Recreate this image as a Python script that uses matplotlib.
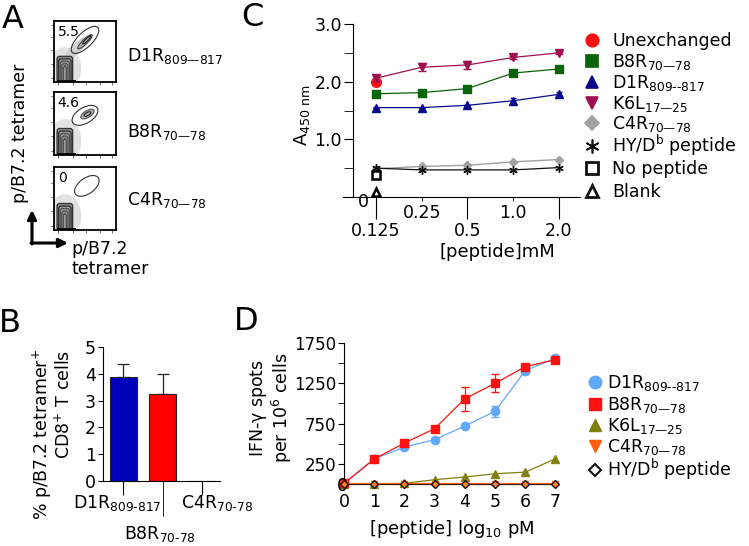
import numpy as np
import matplotlib.pyplot as plt
from matplotlib.patches import Ellipse, FancyBboxPatch

plt.rcParams['font.family'] = ['DejaVu Sans']
plt.rcParams['mathtext.default'] = 'regular'

# ---------------- data ----------------
# panel A (flow plots)
a_labels = ["D1R$_{809—817}$", "B8R$_{70—78}$", "C4R$_{70—78}$"]
a_freq = ["5.5", "4.6", "0"]

# panel B
b_names = ["D1R$_{809\u2010817}$", "B8R$_{70\u201078}$", "C4R$_{70\u201078}$"]
b_mean = [3.90, 3.26, 0.0]
b_err = [0.46, 0.74, 0.0]

# panel C  (A450 vs peptide mM)
c_conc = [0.125, 0.25, 0.5, 1.0, 2.0]
c_conc_labels = ["0.125", "0.25", "0.5", "1.0", "2.0"]
c_k6l = [2.06, 2.25, 2.29, 2.42, 2.50]
c_k6l_err = [0.05, 0.07, 0.07, 0.03, 0.02]
c_b8r = [1.79, 1.81, 1.88, 2.15, 2.22]
c_b8r_err = [0.02, 0.02, 0.02, 0.02, 0.02]
c_d1r = [1.55, 1.55, 1.59, 1.67, 1.78]
c_d1r_err = [0.01, 0.01, 0.01, 0.04, 0.04]
c_c4r = [0.49, 0.53, 0.55, 0.61, 0.65]
c_hy = [0.50, 0.47, 0.47, 0.47, 0.51]
c_unexch = [1.99]
c_nopep = [0.39]
c_blank = [0.09]

# panel D  (IFN-g spots vs log10 pM)
d_logc = [0, 1, 2, 3, 4, 5, 6, 7]
d_d1r = [10, 313, 461, 552, 721, 902, 1405, 1560]
d_d1r_err = [0, 0, 0, 0, 0, 66, 40, 0]
d_b8r = [10, 313, 510, 688, 1058, 1248, 1454, 1540]
d_b8r_err = [0, 0, 0, 0, 150, 110, 0, 0]
d_k6l = [5, 5, 12, 57, 90, 131, 150, 316]
d_c4r = [5, 5, 5, 5, 5, 5, 5, 5]
d_hy = [5, 5, 5, 5, 5, 5, 5, 5]

W, H = 749, 546
fig = plt.figure(figsize=(W / 100, H / 100), dpi=100)

# overlay in pixel coords (origin top-left) for free text
ov = fig.add_axes([0, 0, 1, 1])
ov.set_xlim(0, W)
ov.set_ylim(H, 0)
ov.axis('off')


def fax(x0, y0, x1, y1):
    # axes from pixel box
    return fig.add_axes([x0 / W, 1 - y1 / H, (x1 - x0) / W, (y1 - y0) / H])


# panel letters
for let, x, y in [("A", 13, 19), ("B", 10, 323), ("C", 252, 18), ("D", 246, 321)]:
    ov.text(x, y, let, fontsize=23, ha='center', va='center')

# ---------------- panel A ----------------
boxes = [(54, 21, 116, 82), (54, 92, 116, 155), (54, 167, 116, 230)]
gates = [((0.5, 0.69), 0.58, 0.24, 45), ((0.5, 0.63), 0.46, 0.25, 30), ((0.53, 0.7), 0.45, 0.25, 35)]
for i, (x0, y0, x1, y1) in enumerate(boxes):
    ax = fax(x0, y0, x1, y1)
    ax.set_xlim(0, 1)
    ax.set_ylim(0, 1)
    tk = [0.07, 0.3, 0.52, 0.74, 0.94]
    ax.set_xticks(tk, [])
    ax.set_yticks(tk, [])
    ax.tick_params(length=2, width=0.6, colors='#555555')
    for s in ax.spines.values():
        s.set_linewidth(1.3)
    # sparse haze of events
    ax.add_patch(Ellipse((0.18, 0.22), 0.52, 0.7, color='#e2e2e2', lw=0))
    if i == 0:
        ax.add_patch(Ellipse((0.36, 0.55), 0.55, 0.16, angle=45, color='#d0d0d0', lw=0))
    # negative cluster contours (nested)
    for k in range(5):
        d = 0.025 * k
        ax.add_patch(FancyBboxPatch((0.05 + d, 0.0), 0.25 - 2 * d, 0.42 - 1.6 * d,
                                    boxstyle='round,pad=0,rounding_size=0.04',
                                    fc='#9a9a9a' if k == 0 else 'none',
                                    ec='#333333' if k < 2 else '#555555', lw=1.0))
    ax.add_patch(FancyBboxPatch((0.05, 0.0), 0.3, 0.035, boxstyle='square,pad=0',
                                fc='#111111', ec='none'))
    # positive population
    if i == 0:
        ax.add_patch(Ellipse((0.5, 0.66), 0.32, 0.08, angle=45, fc='#a8a8a8', ec='#444444', lw=0.8))
        ax.add_patch(Ellipse((0.53, 0.69), 0.18, 0.04, angle=45, fc='none', ec='#222222', lw=0.8))
    elif i == 1:
        ax.add_patch(Ellipse((0.54, 0.65), 0.24, 0.11, angle=30, fc='#b0b0b0', ec='#555555', lw=0.8))
        ax.add_patch(Ellipse((0.54, 0.65), 0.12, 0.05, angle=30, fc='none', ec='#222222', lw=0.8))
    (cx, cy), gw, gh, ang = gates[i]
    ax.add_patch(Ellipse((cx, cy), gw, gh, angle=ang, fc='none', ec='#333333', lw=0.8))
    ax.text(0.06, 0.93, a_freq[i], transform=ax.transAxes, fontsize=10, va='top', ha='left')

for lab, yb in zip(a_labels, [61, 137, 205]):
    ov.text(127, yb, lab, fontsize=12.5, va='baseline', ha='left')

ov.text(20, 133, "p/B7.2 tetramer", fontsize=12.5, rotation=90, ha='center', va='center')
ov.text(71, 249, "p/B7.2", fontsize=12.5, ha='left', va='center')
ov.text(72, 269, "tetramer", fontsize=12.5, ha='left', va='center')
ov.annotate('', xy=(32, 210), xytext=(32, 244),
            arrowprops=dict(arrowstyle='-|>', lw=2.2, color='k', mutation_scale=13, shrinkA=0, shrinkB=0))
ov.annotate('', xy=(68, 243), xytext=(31, 243),
            arrowprops=dict(arrowstyle='-|>', lw=2.2, color='k', mutation_scale=13, shrinkA=0, shrinkB=0))

# ---------------- panel B ----------------
axb = fax(103, 347.3, 220, 480.7)
xb = np.arange(len(b_mean))
axb.bar(xb, b_mean, width=0.68, color=['#0000bb', '#ff0000', '#ffffff'],
        edgecolor='#222222', linewidth=0.8, zorder=2)
axb.errorbar(xb[:2], b_mean[:2], yerr=[[0, 0], b_err[:2]], fmt='none', ecolor='#222222',
             elinewidth=0.9, capsize=4, capthick=0.9, zorder=1)
axb.set_xlim(-0.52, 2.46)
axb.set_ylim(0, 5)
axb.spines['top'].set_visible(False)
axb.spines['right'].set_visible(False)
axb.set_yticks([0, 1, 2, 3, 4, 5])
axb.tick_params(axis='y', length=3.5, pad=1.5, labelsize=12.5)
axb.set_xticks([0, 2])
axb.set_xticks([1], minor=True)
axb.tick_params(axis='x', which='major', length=10, labelbottom=False)
axb.tick_params(axis='x', which='minor', length=25, labelbottom=False)
axb.text(-0.15, -0.45, b_names[0], ha='center', va='top', fontsize=12.5, clip_on=False)
axb.text(0.94, -1.62, b_names[1], ha='center', va='top', fontsize=12.5, clip_on=False)
axb.text(1.46, -0.45, b_names[2], ha='left', va='top', fontsize=12.5, clip_on=False)
ov.text(52, 435, "% p/B7.2 tetramer$^{+}$\nCD8$^{+}$ T cells", rotation=90, fontsize=12.5,
        ha='center', va='center', multialignment='right', linespacing=1.05)

# ---------------- panel C ----------------
axc = fax(343, 24, 580, 197)
xc = np.log2(c_conc)
axc.errorbar(xc, c_hy, fmt='-', color='#111111', marker=(6, 2, 0), ms=6, mew=1.0, lw=0.9)
axc.plot(xc, c_c4r, '-', color='#a0a0a0', marker='D', ms=4.5, lw=1.0)
axc.errorbar(xc, c_d1r, yerr=c_d1r_err, fmt='-^', color='#0a0a8c', ms=5.5, lw=0.9, capsize=2.5)
axc.errorbar(xc, c_b8r, yerr=c_b8r_err, fmt='-s', color='#0a640a', ms=5.5, lw=0.9, capsize=2.5)
axc.plot(xc[:1], c_unexch, 'o', color='#ff1010', ms=7, zorder=4)
axc.errorbar(xc, c_k6l, yerr=c_k6l_err, fmt='-v', color='#a01050', ms=6, lw=0.9, capsize=3, zorder=5)
axc.plot(xc[:1], c_nopep, 's', mfc='white', mec='k', mew=1.8, ms=5.5, clip_on=False, zorder=6)
axc.plot(xc[:1], c_blank, '^', mfc='white', mec='k', mew=1.8, ms=5.5, clip_on=False, zorder=6)
axc.set_xlim(-3.72, 1.46)
axc.set_ylim(0, 3.0)
axc.spines['left'].set_position(('data', -3.5))
axc.spines['top'].set_visible(False)
axc.spines['right'].set_visible(False)
axc.set_yticks([1.0, 2.0, 3.0], ['1.0', '2.0', '3.0'])
axc.set_yticks([0.5, 1.5, 2.5], minor=True)
axc.tick_params(axis='y', which='both', length=6.5, pad=1.5, labelsize=12.5)
axc.set_xticks(xc[[0, 2, 4]], [c_conc_labels[0], c_conc_labels[2], c_conc_labels[4]])
axc.set_xticks(xc[[1, 3]], [c_conc_labels[1], c_conc_labels[3]], minor=True)
axc.tick_params(axis='x', which='major', length=16, pad=2, labelsize=12.5)
axc.tick_params(axis='x', which='minor', length=3, pad=2, labelsize=12.5)
axc.text(-3.28, -0.09, "0", ha='center', va='center', fontsize=12.5, clip_on=False)
ov.text(302, 115, "A$_{450\\ nm}$", rotation=90, fontsize=13, ha='center', va='center')
ov.text(497, 252, "[peptide]mM", fontsize=13, ha='center', va='center')

# legend C (drawn in pixel coords)
c_leg = [("Unexchanged", 'o', '#ff1010', '#ff1010', 9),
         ("B8R$_{70—78}$", 's', '#0a640a', '#0a640a', 8),
         ("D1R$_{809\u2010\u2010817}$", '^', '#0a0a8c', '#0a0a8c', 8.5),
         ("K6L$_{17—25}$", 'v', '#a01050', '#a01050', 9),
         ("C4R$_{70—78}$", 'D', '#a0a0a0', '#a0a0a0', 7),
         ("HY/D$^{b}$ peptide", (6, 2, 0), '#111111', '#111111', 10),
         ("No peptide", 's', 'white', '#111111', 8),
         ("Blank", '^', 'white', '#111111', 8)]
for (lab, mk, fc, ec, ms), yy in zip(c_leg, [40, 61, 82, 103, 123, 146, 168, 191]):
    ov.plot([592], [yy], marker=mk, mfc=fc, mec=ec, ms=ms, mew=2 if fc == 'white' else 1.2, ls='none')
    ov.text(612, yy + 6, lab, fontsize=12.5, va='baseline', ha='left')

# ---------------- panel D ----------------
axd = fax(344, 342.7, 557, 484.3)
axd.plot(d_logc, d_c4r, '-v', color='#ff6010', ms=5, lw=1.6, clip_on=False, zorder=3)
axd.plot(d_logc, d_hy, '-D', color='#111111', mfc='#ff8020', mec='#111111', ms=4, lw=0.6,
         clip_on=False, zorder=4)
axd.plot(d_logc, d_k6l, '-^', color='#808010', ms=5.5, lw=0.9, clip_on=False, zorder=2)
axd.errorbar(d_logc, d_d1r, yerr=d_d1r_err, fmt='-o', color='#60a8f8', ms=6, lw=0.9,
             capsize=3, clip_on=False, zorder=2)
axd.errorbar(d_logc, d_b8r, yerr=d_b8r_err, fmt='-s', color='#ff1010', ms=6, lw=0.9,
             capsize=3, clip_on=False, zorder=2)
axd.set_xlim(0, 7.05)
axd.set_ylim(0, 1750)
axd.spines['top'].set_visible(False)
axd.spines['right'].set_visible(False)
axd.set_yticks([250, 750, 1250, 1750])
axd.set_yticks([500, 1000, 1500], minor=True)
axd.tick_params(axis='y', which='both', length=4.5, pad=1, labelsize=12)
axd.set_xticks(d_logc)
axd.tick_params(axis='x', length=0, pad=6, labelsize=12.5)
axd.text(-0.07, -15, "0", ha='center', va='center', fontsize=12.5, clip_on=False)
ov.text(271, 408, "IFN-$\\gamma$ spots\nper 10$^{6}$ cells", rotation=90, fontsize=12.5,
        ha='center', va='center', linespacing=1.05)
ov.text(452, 529, "[peptide] log$_{10}$ pM", fontsize=13, ha='center', va='center')

d_leg = [("D1R$_{809\u2010\u2010817}$", 'o', '#60a8f8', '#60a8f8', 9),
         ("B8R$_{70—78}$", 's', '#ff1010', '#ff1010', 8.5),
         ("K6L$_{17—25}$", '^', '#808010', '#808010', 8.5),
         ("C4R$_{70—78}$", 'v', '#ff6010', '#ff6010', 8.5),
         ("HY/D$^{b}$ peptide", 'D', 'white', '#111111', 6.5)]
for (lab, mk, fc, ec, ms), yy in zip(d_leg, [382, 404, 425, 446, 470]):
    ov.plot([595], [yy], marker=mk, mfc=fc, mec=ec, ms=ms, mew=1.5 if fc == 'white' else 1, ls='none')
    ov.text(607, yy + 6, lab, fontsize=12.5, va='baseline', ha='left')

fig.savefig("out.png", dpi=100)
